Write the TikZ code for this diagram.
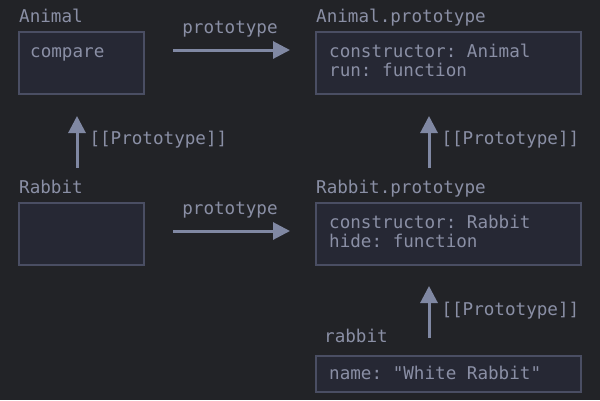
\documentclass[tikz,border=0pt]{standalone}
\usepackage{fontspec}
\setmonofont{DejaVu Sans Mono}
\usetikzlibrary{arrows.meta,positioning}
\definecolor{bgcol}{HTML}{222327}
\definecolor{boxfill}{HTML}{262834}
\definecolor{boxline}{HTML}{4A4E63}
\definecolor{txtcol}{HTML}{8A8FA5}
\definecolor{arrcol}{HTML}{8088A3}
\newcommand\monospaces{\spaceskip=0.602em\relax\xspaceskip=0.602em\relax}

\begin{document}
\begin{tikzpicture}[x=1pt,y=-1pt]
    \tikzset{every node/.style={font=\ttfamily\fontsize{17.6}{19}\selectfont,text=txtcol},
      objbox/.style={rectangle,draw=boxline,fill=boxfill,line width=2,minimum height=62,outer sep=0pt},
      lbl/.style={anchor=base west,inner sep=0pt},
      objtxt/.style={anchor=base west,inner sep=0pt,align=left,execute at begin node=\monospaces},
      arr/.style={draw=arrcol,line width=3,-{Triangle[length=17pt,width=17pt]}},
      arrlbl/.style={inner sep=0pt}}
    \fill[bgcol] (0,0) rectangle (600,400);
    \useasboundingbox (0,0) rectangle (600,400);
    % objects
    \node [objbox,minimum width=125]   (animal) at (81.5,63)  {};
    \node [objbox,minimum width=265]   (animalproto) at (448.5,63)  {};
    \node [objbox,minimum width=125]   (rabbit) at (81.5,234)  {};
    \node [objbox,minimum width=265]   (rabbitproto) at (448.5,234)  {};
    \node [objbox,minimum width=265,minimum height=36]  (rabbitobj) at (448.5,374)  {};
    % contents (base = last line)
    \node [objtxt] (animaltxt) at ([xshift=11pt,yshift=-25pt]animal.north west) {compare};
    \node [objtxt] (animalprototxt) at ([xshift=13pt,yshift=-44.5pt]animalproto.north west) {constructor: Animal\\run: function};
    \node [objtxt] (rabbitprototxt) at ([xshift=13pt,yshift=-44.5pt]rabbitproto.north west) {constructor: Rabbit\\hide: function};
    \node [objtxt] (rabbitobjtxt) at ([xshift=13pt,yshift=-23pt]rabbitobj.north west) {name: "White Rabbit"};
    % names
    \node [lbl] (animalname) at ([yshift=10pt]animal.north west) {Animal};
    \node [lbl] (animalprotoname) at ([yshift=10pt]animalproto.north west) {Animal.prototype};
    \node [lbl] (rabbitname) at ([yshift=10pt]rabbit.north west) {Rabbit};
    \node [lbl] (rabbitprotoname) at ([yshift=10pt]rabbitproto.north west) {Rabbit.prototype};
    \node [lbl] (rabbitobjname) at ([xshift=8pt,yshift=14pt]rabbitobj.north west) {rabbit};
    % links
    \draw[arr,shorten <=29pt,shorten >=26pt] ([yshift=13pt]animal.east) -- ([yshift=13pt]animalproto.west)
        node[arrlbl,midway,above=11pt] {prototype};
    \draw[arr,shorten <=29pt,shorten >=26pt] ([yshift=3pt]rabbit.east) -- ([yshift=3pt]rabbitproto.west)
        node[arrlbl,midway,above=11pt] {prototype};
    \draw[arr,shorten <=35pt,shorten >=22pt] ([xshift=-4.5pt]rabbit.north) -- ([xshift=-4.5pt]animal.south)
        node[arrlbl,pos=0.58,right=11pt] {[[Prototype]]};
    \draw[arr,shorten <=35pt,shorten >=22pt] ([xshift=-19.5pt]rabbitproto.north) -- ([xshift=-19.5pt]animalproto.south)
        node[arrlbl,pos=0.58,right=11pt] {[[Prototype]]};
    \draw[arr,shorten <=18pt,shorten >=21pt] ([xshift=-19.5pt]rabbitobj.north) -- ([xshift=-19.5pt]rabbitproto.south)
        node[arrlbl,midway,right=11pt] {[[Prototype]]};
\end{tikzpicture}
\end{document}
